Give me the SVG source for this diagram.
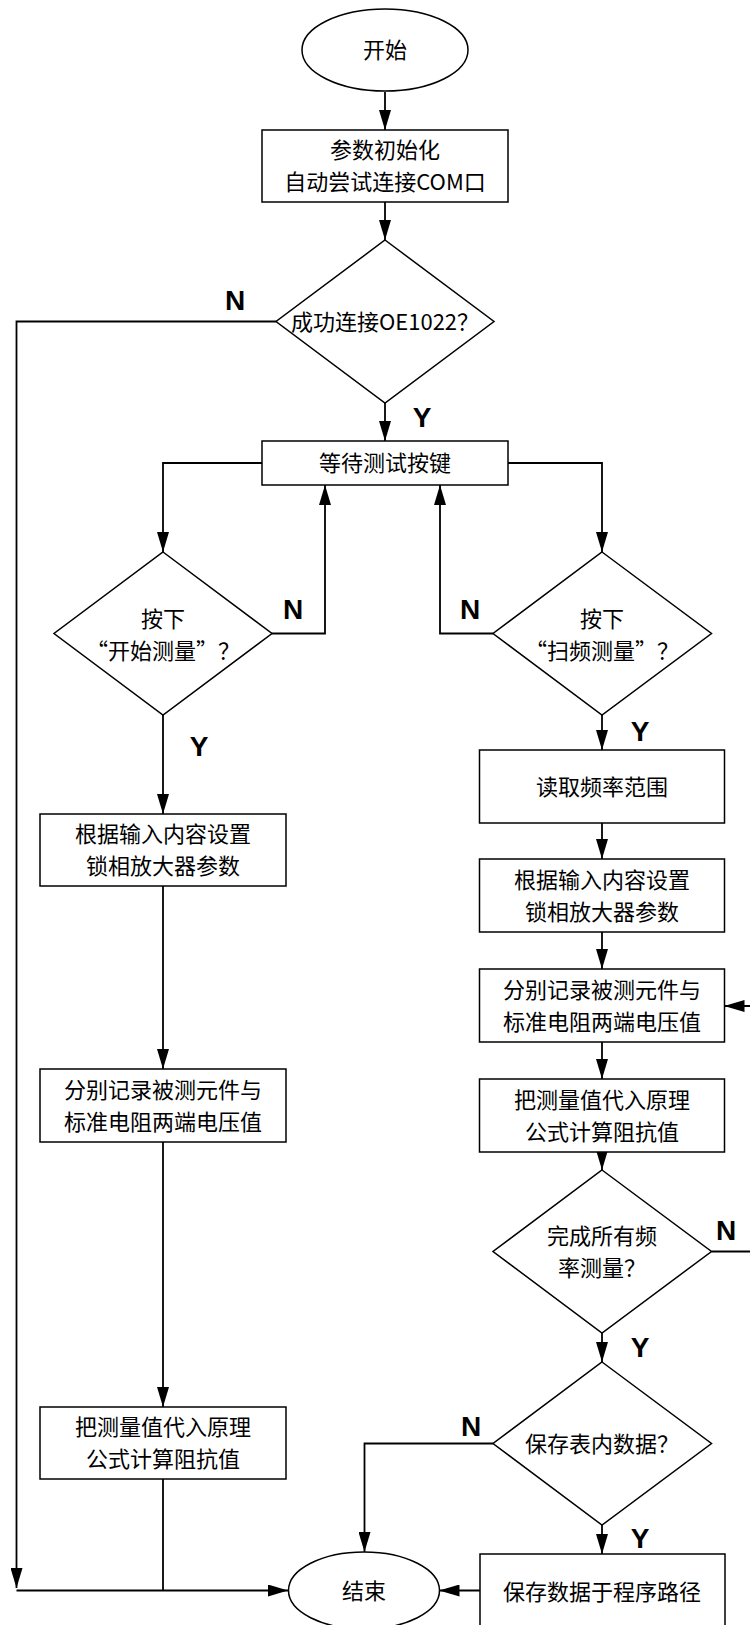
<svg xmlns="http://www.w3.org/2000/svg" width="750" height="1625" viewBox="0 0 750 1625">
<defs>
<marker id="arr" markerUnits="userSpaceOnUse" markerWidth="20" markerHeight="12" refX="20" refY="6" orient="auto">
<path d="M0,0 L20,6 L0,12 z" fill="#000"/>
</marker>
<style>
.shape{fill:#fff;stroke:#000;stroke-width:1.5}
.t{font-family:"Noto Sans CJK SC","Noto Sans",sans-serif;font-size:22px;fill:#000;text-anchor:middle}
.lbl{font-family:"Liberation Sans",Arial,sans-serif;font-size:28px;font-weight:bold;fill:#000;text-anchor:middle}
.c{fill:none;stroke:#000;stroke-width:1.8}
.a{marker-end:url(#arr)}
</style>
</defs>
<rect width="750" height="1625" fill="#fff"/>
<g id="connectors">
<path class="c a" d="M385,92 V130"/>
<path class="c a" d="M385,202 V240"/>
<path class="c a" d="M385,403 V441"/>
<path class="c a" d="M276,321.5 H16.5 V1588"/>
<path class="c a" d="M16.5,1590.5 H288"/>
<path class="c" d="M163,1479 V1590.5"/>
<path class="c a" d="M262,463 H163 V552"/>
<path class="c a" d="M508,463 H602 V552"/>
<path class="c a" d="M271.5,633.5 H325 V485"/>
<path class="c a" d="M493,633.5 H440 V485"/>
<path class="c a" d="M163,715 V814"/>
<path class="c a" d="M163,886 V1069"/>
<path class="c a" d="M163,1142 V1407"/>
<path class="c a" d="M602,715 V750"/>
<path class="c a" d="M602,823 V859"/>
<path class="c a" d="M602,932 V969"/>
<path class="c a" d="M602,1042 V1079"/>
<path class="c a" d="M602,1152 V1170"/>
<path class="c a" d="M711.5,1251.5 H753 V1006 H724.5"/>
<path class="c a" d="M602,1333 V1362"/>
<path class="c a" d="M602,1525 V1554"/>
<path class="c a" d="M493,1443.5 H364.5 V1552"/>
<path class="c a" d="M480,1590.5 H439.5"/>
</g>
<g id="labels">
<text class="lbl" x="235" y="310">N</text>
<text class="lbl" x="422" y="427">Y</text>
<text class="lbl" x="293" y="619">N</text>
<text class="lbl" x="470" y="619">N</text>
<text class="lbl" x="199" y="756">Y</text>
<text class="lbl" x="640" y="741">Y</text>
<text class="lbl" x="726" y="1240">N</text>
<text class="lbl" x="640" y="1357">Y</text>
<text class="lbl" x="471" y="1436">N</text>
<text class="lbl" x="640" y="1548">Y</text>
</g>
<g id="start">
<ellipse class="shape" cx="385" cy="50" rx="83" ry="41"/>
<text class="t" x="385" y="58.4">开始</text>
</g>
<g id="init">
<rect class="shape" x="262" y="130" width="246" height="72"/>
<text class="t" x="385" y="158.4">参数初始化<tspan x="385" dy="32">自动尝试连接COM口</tspan></text>
</g>
<g id="connected">
<polygon class="shape" points="385,240 494,321.5 385,403 276,321.5"/>
<text class="t" x="385" y="330">成功连接OE1022？</text>
</g>
<g id="wait">
<rect class="shape" x="262" y="441" width="246" height="44"/>
<text class="t" x="385" y="471.4">等待测试按键</text>
</g>
<g id="pressStart">
<polygon class="shape" points="163,552 272,633.5 163,715 54,633.5"/>
<text class="t" x="163" y="627.4">按下<tspan x="163" dy="32">“开始测量”？</tspan></text>
</g>
<g id="pressSweep">
<polygon class="shape" points="602,552 711.5,633.5 602,715 493,633.5"/>
<text class="t" x="602" y="627.4">按下<tspan x="602" dy="32">“扫频测量”？</tspan></text>
</g>
<g id="setL">
<rect class="shape" x="40" y="814" width="246" height="72"/>
<text class="t" x="163" y="842.4">根据输入内容设置<tspan x="163" dy="32">锁相放大器参数</tspan></text>
</g>
<g id="recordL">
<rect class="shape" x="40" y="1069" width="246" height="73"/>
<text class="t" x="163" y="1098">分别记录被测元件与<tspan x="163" dy="32">标准电阻两端电压值</tspan></text>
</g>
<g id="calcL">
<rect class="shape" x="40" y="1407" width="246" height="72"/>
<text class="t" x="163" y="1435.4">把测量值代入原理<tspan x="163" dy="32">公式计算阻抗值</tspan></text>
</g>
<g id="readRange">
<rect class="shape" x="479.5" y="750" width="245" height="73"/>
<text class="t" x="602" y="795">读取频率范围</text>
</g>
<g id="setR">
<rect class="shape" x="479.5" y="859" width="245" height="73"/>
<text class="t" x="602" y="888">根据输入内容设置<tspan x="602" dy="32">锁相放大器参数</tspan></text>
</g>
<g id="recordR">
<rect class="shape" x="479.5" y="969" width="245" height="73"/>
<text class="t" x="602" y="998">分别记录被测元件与<tspan x="602" dy="32">标准电阻两端电压值</tspan></text>
</g>
<g id="calcR">
<rect class="shape" x="479.5" y="1079" width="245" height="73"/>
<text class="t" x="602" y="1108">把测量值代入原理<tspan x="602" dy="32">公式计算阻抗值</tspan></text>
</g>
<g id="allDone">
<polygon class="shape" points="602,1170 711.5,1251.5 602,1333 493,1251.5"/>
<text class="t" x="602" y="1244.4">完成所有频<tspan x="602" dy="32">率测量？</tspan></text>
</g>
<g id="saveQ">
<polygon class="shape" points="602,1362 711.5,1443.5 602,1525 493,1443.5"/>
<text class="t" x="602" y="1452">保存表内数据？</text>
</g>
<g id="save">
<rect class="shape" x="480" y="1554" width="245" height="80"/>
<text class="t" x="602" y="1600.4">保存数据于程序路径</text>
</g>
<g id="end">
<ellipse class="shape" cx="364" cy="1590.5" rx="75.5" ry="38.5"/>
<text class="t" x="364" y="1598.9">结束</text>
</g>
</svg>
